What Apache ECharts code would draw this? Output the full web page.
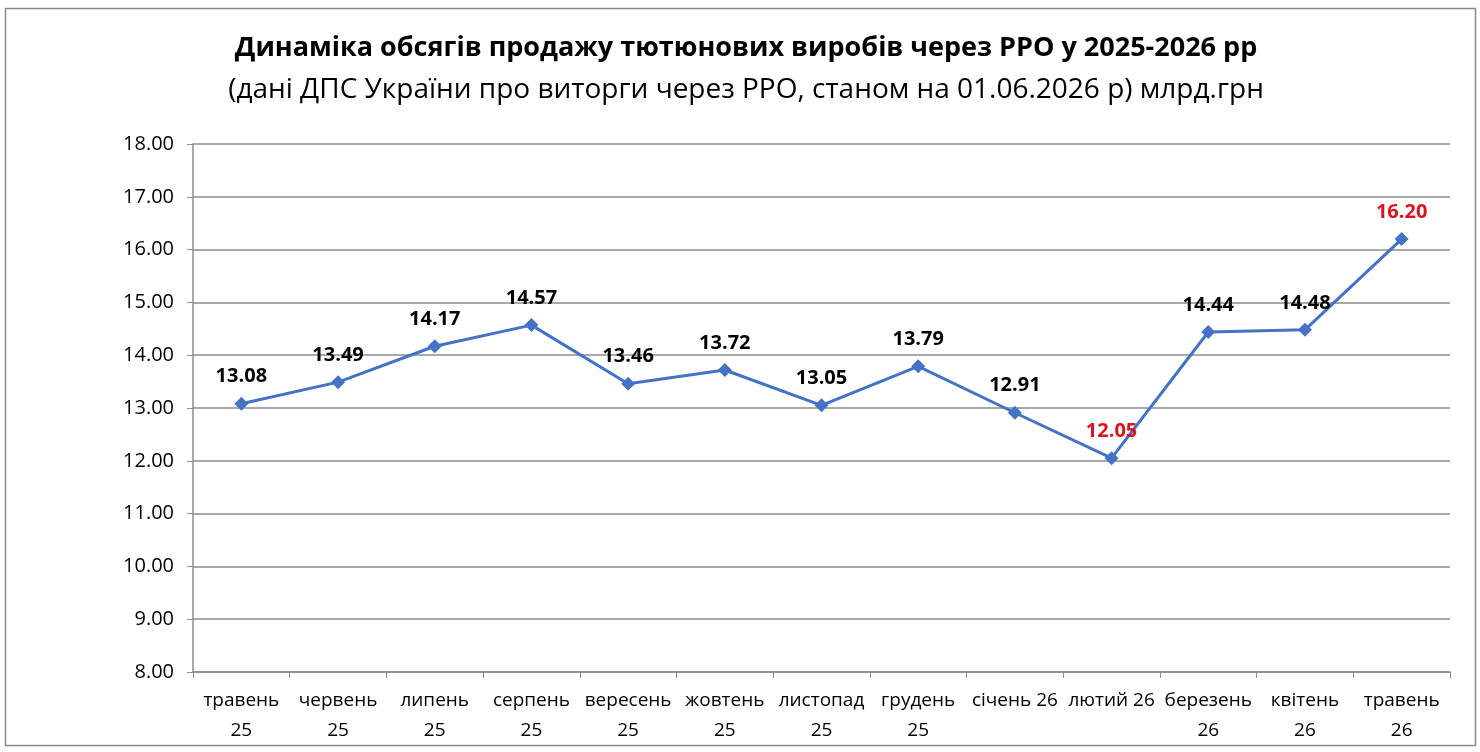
<!DOCTYPE html>
<html>
<head>
<meta charset="utf-8">
<script src="https://cdn.jsdelivr.net/npm/echarts@6/dist/echarts.min.js"></script>
<style>
  html, body { margin: 0; padding: 0; background: #fff; }
  #chart { width: 1480px; height: 752px; }
</style>
</head>
<body>
<div id="chart"></div>
<script>
var months = ['травень\n25', 'червень\n25', 'липень\n25', 'серпень\n25', 'вересень\n25', 'жовтень\n25',
              'листопад\n25', 'грудень\n25', 'січень 26', 'лютий 26', 'березень\n26', 'квітень\n26', 'травень\n26'];
var sales = [13.08, 13.49, 14.17, 14.57, 13.46, 13.72, 13.05, 13.79, 12.91, 12.05, 14.44, 14.48, 16.20];
var redLabels = [9, 12];   // min and last value are marked in red

var font = '"Open Sans", "Noto Sans", sans-serif';

var chart = echarts.init(document.getElementById('chart'));

var option = {
    backgroundColor: '#fff',
    textStyle: { fontFamily: font },
    title: {
        text: 'Динаміка обсягів продажу тютюнових виробів через РРО у 2025-2026 рр',
        subtext: '(дані ДПС України про виторги через РРО, станом на 01.06.2026 р) млрд.грн',
        left: 741,
        textAlign: 'center',
        top: 30,
        itemGap: 14,
        textStyle: { fontSize: 27, fontWeight: 'bold', color: '#000', fontFamily: font },
        subtextStyle: { fontSize: 28, color: '#000', fontFamily: font }
    },
    graphic: [{
        type: 'rect',
        shape: { x: 5.5, y: 8.5, width: 1470, height: 737 },
        style: { fill: 'none', stroke: '#8a8a8a', lineWidth: 1.5 },
        silent: true
    }],
    grid: { left: 193, right: 30, top: 144, bottom: 80 },
    xAxis: {
        type: 'category',
        data: months,
        boundaryGap: true,
        axisLine: { lineStyle: { color: '#8c8c8c', width: 1.5 } },
        axisTick: { show: true, length: 6, lineStyle: { color: '#8c8c8c' } },
        axisLabel: { interval: 0, color: '#000', fontSize: 19, lineHeight: 30, margin: 14, fontFamily: font }
    },
    yAxis: {
        type: 'value',
        min: 8,
        max: 18,
        interval: 1,
        axisLine: { show: true, lineStyle: { color: '#8c8c8c', width: 1.5 } },
        axisTick: { show: true, length: 6, lineStyle: { color: '#8c8c8c' } },
        axisLabel: { color: '#000', fontSize: 20, margin: 19, fontFamily: font,
                     formatter: function (v) { return v.toFixed(2); } },
        splitLine: { lineStyle: { color: '#8c8c8c', width: 1.5 } }
    },
    series: [{
        type: 'line',
        data: sales.map(function (v, i) {
            return {
                value: v,
                label: { color: redLabels.indexOf(i) >= 0 ? '#d9141e' : '#000' }
            };
        }),
        symbol: 'diamond',
        symbolSize: 14,
        lineStyle: { color: '#4472c4', width: 3 },
        itemStyle: { color: '#4472c4' },
        label: {
            show: true,
            position: 'top',
            distance: 10,
            fontSize: 20,
            fontWeight: 'bold',
            fontFamily: font,
            formatter: function (p) { return p.value.toFixed(2); }
        },
        animation: false
    }]
};

chart.setOption(option);
</script>
</body>
</html>
